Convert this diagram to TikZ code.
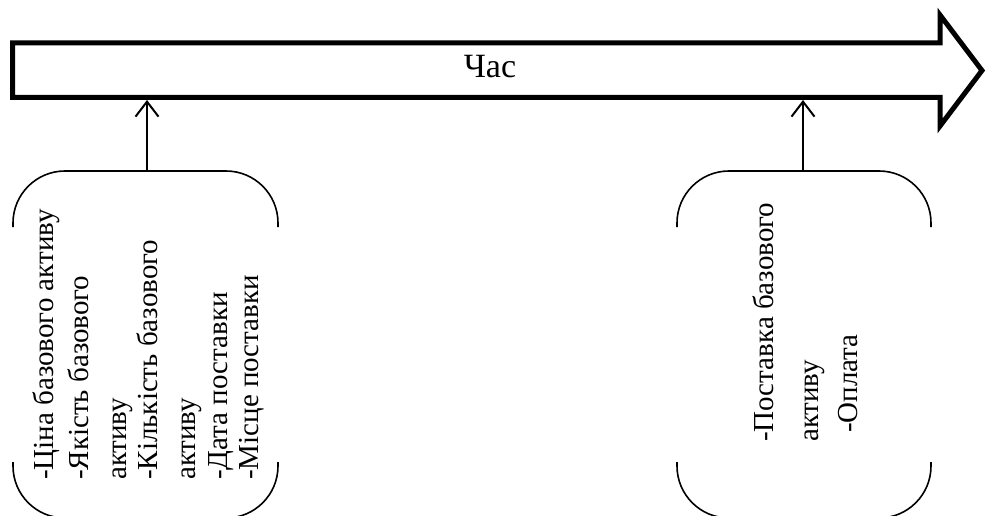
\documentclass[tikz,border=0pt]{standalone}
\usepackage{fontspec}
\setmainfont{Liberation Serif}
\newfontfamily\labelfont{Liberation Serif}
\usetikzlibrary{arrows.meta}

\tikzset{
  timeline/.style={line width=5pt, line join=miter, miter limit=10},
  bracketbox/.style={line width=1.6pt, rounded corners=52pt},
  pointer/.style={line width=2pt, -{Straight Barb[length=15pt, width=23pt, line width=2pt]}},
  boxtext/.style={rotate=90, anchor=base west, inner sep=0pt, font=\labelfont\fontsize{29}{33}\selectfont},
}

\begin{document}
\begin{tikzpicture}[x=1pt, y=-1pt]
  \useasboundingbox (0,0) rectangle (986,516);

  % the time axis: a wide block arrow
  \draw[timeline] (12.5,43) -- (940,43) -- (940,15) -- (982,70.5)
        -- (940,126) -- (940,97.5) -- (12.5,97.5) -- cycle;
  \node[anchor=base, inner sep=0pt, font=\labelfont\fontsize{34}{40}\selectfont] (axis) at (490,78) {Час};

  % points on the axis and on the boxes
  \coordinate (axisA) at (147,100);
  \coordinate (axisB) at (803,100);
  \coordinate (boxA) at (147,171);
  \coordinate (boxB) at (803,171);

  % left bracket box
  \draw[bracketbox] (13,227) -- (13,171) -- (278,171) -- (278,227);
  \draw[bracketbox] (13,462) -- (13,518) -- (278,518) -- (278,462);

  % right bracket box
  \draw[bracketbox] (677,227) -- (677,171) -- (931,171) -- (931,227);
  \draw[bracketbox] (677,462) -- (677,518) -- (931,518) -- (931,462);

  % connectors
  \draw[pointer] (boxA) -- (axisA);
  \draw[pointer] (boxB) -- (axisB);

  % text of the left box
  \node[boxtext] (a1) at (53,480) {-Ціна базового активу};
  \node[boxtext] (a2) at (88,480) {-Якість базового};
  \node[boxtext] (a3) at (126,480) {активу};
  \node[boxtext] (a4) at (157,480) {-Кількість базового};
  \node[boxtext] (a5) at (195,480) {активу};
  \node[boxtext] (a6) at (227,480) {-Дата поставки};
  \node[boxtext] (a7) at (258,480) {-Місце поставки};

  % text of the right box
  \node[boxtext] (b1) at (773,442) {-Поставка базового};
  \node[boxtext] (b2) at (818,442) {активу};
  \node[boxtext] (b3) at (857,433) {-Оплата};
\end{tikzpicture}
\end{document}
